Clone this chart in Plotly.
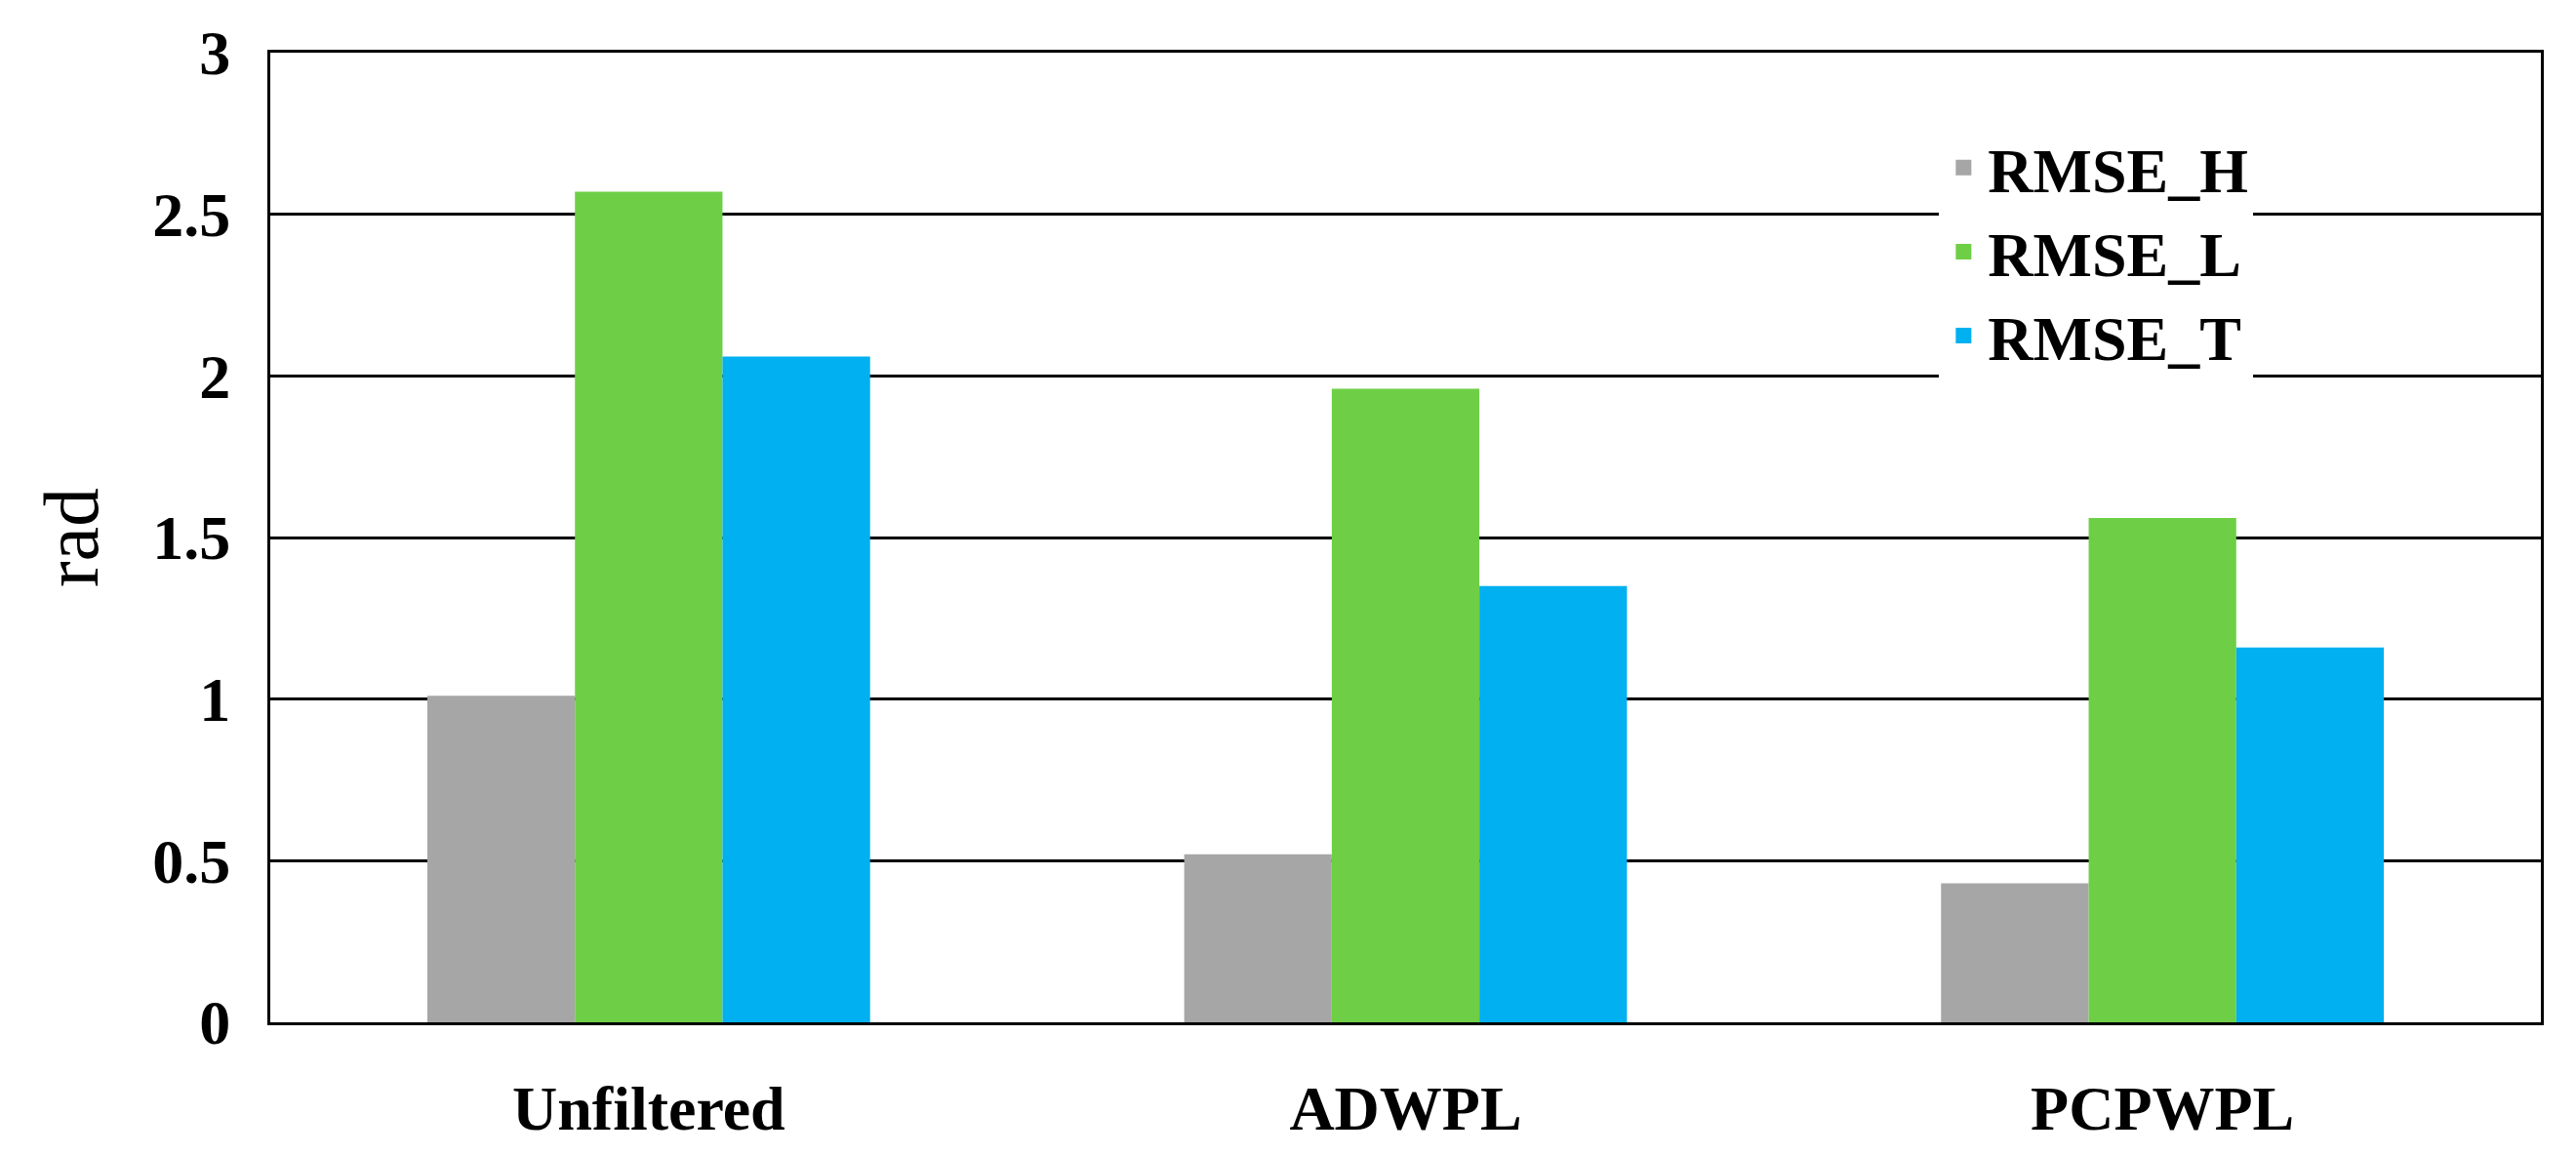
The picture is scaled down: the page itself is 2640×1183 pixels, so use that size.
import plotly.graph_objects as go

# Data
categories = ["Unfiltered", "ADWPL", "PCPWPL"]
series_names = ["RMSE_H", "RMSE_L", "RMSE_T"]
rmse_h = [1.01, 0.52, 0.43]
rmse_l = [2.57, 1.96, 1.56]
rmse_t = [2.06, 1.35, 1.16]
colors = ["#a6a6a6", "#6ecf46", "#00b0f0"]

W, H = 2640, 1183
fig = go.Figure()
for name, vals, c in zip(series_names, [rmse_h, rmse_l, rmse_t], colors):
    fig.add_trace(go.Bar(x=categories, y=vals, name=name, marker_color=c,
                         marker_line_width=0, showlegend=False))
# legend entries with larger square swatches
for name, c in zip(series_names, colors):
    fig.add_trace(go.Scatter(x=[None], y=[None], mode="markers", name=name,
                             marker=dict(symbol="square", size=34, color=c)))

tick_font = dict(family="Liberation Serif", size=64, weight="bold")
fig.update_layout(
    width=W, height=H,
    paper_bgcolor="white", plot_bgcolor="white",
    barmode="group", bargap=0.415, bargroupgap=0,
    font=dict(family="Liberation Serif", color="black"),
    margin=dict(l=int(W * 0.102), r=int(W * 0.017), t=int(H * 0.039), b=int(H * 0.121)),
    legend=dict(x=0.735, y=0.93, xanchor="left", yanchor="top",
                bgcolor="white", font=dict(size=64, family="Liberation Serif", weight="bold"),
                itemsizing="trace", itemwidth=40, tracegroupgap=0),
    xaxis=dict(showline=True, linecolor="black", linewidth=3, mirror=True,
               ticks="", tickfont=tick_font, ticklabelstandoff=30),
    yaxis=dict(range=[0, 3], dtick=0.5, showgrid=True, gridcolor="black", gridwidth=3,
               showline=True, linecolor="black", linewidth=3, mirror=True,
               ticks="", tickfont=tick_font, ticklabelstandoff=25,
               title=dict(text="rad", font=dict(size=80, family="Liberation Serif"), standoff=30)),
)

fig.write_html("out.html")
